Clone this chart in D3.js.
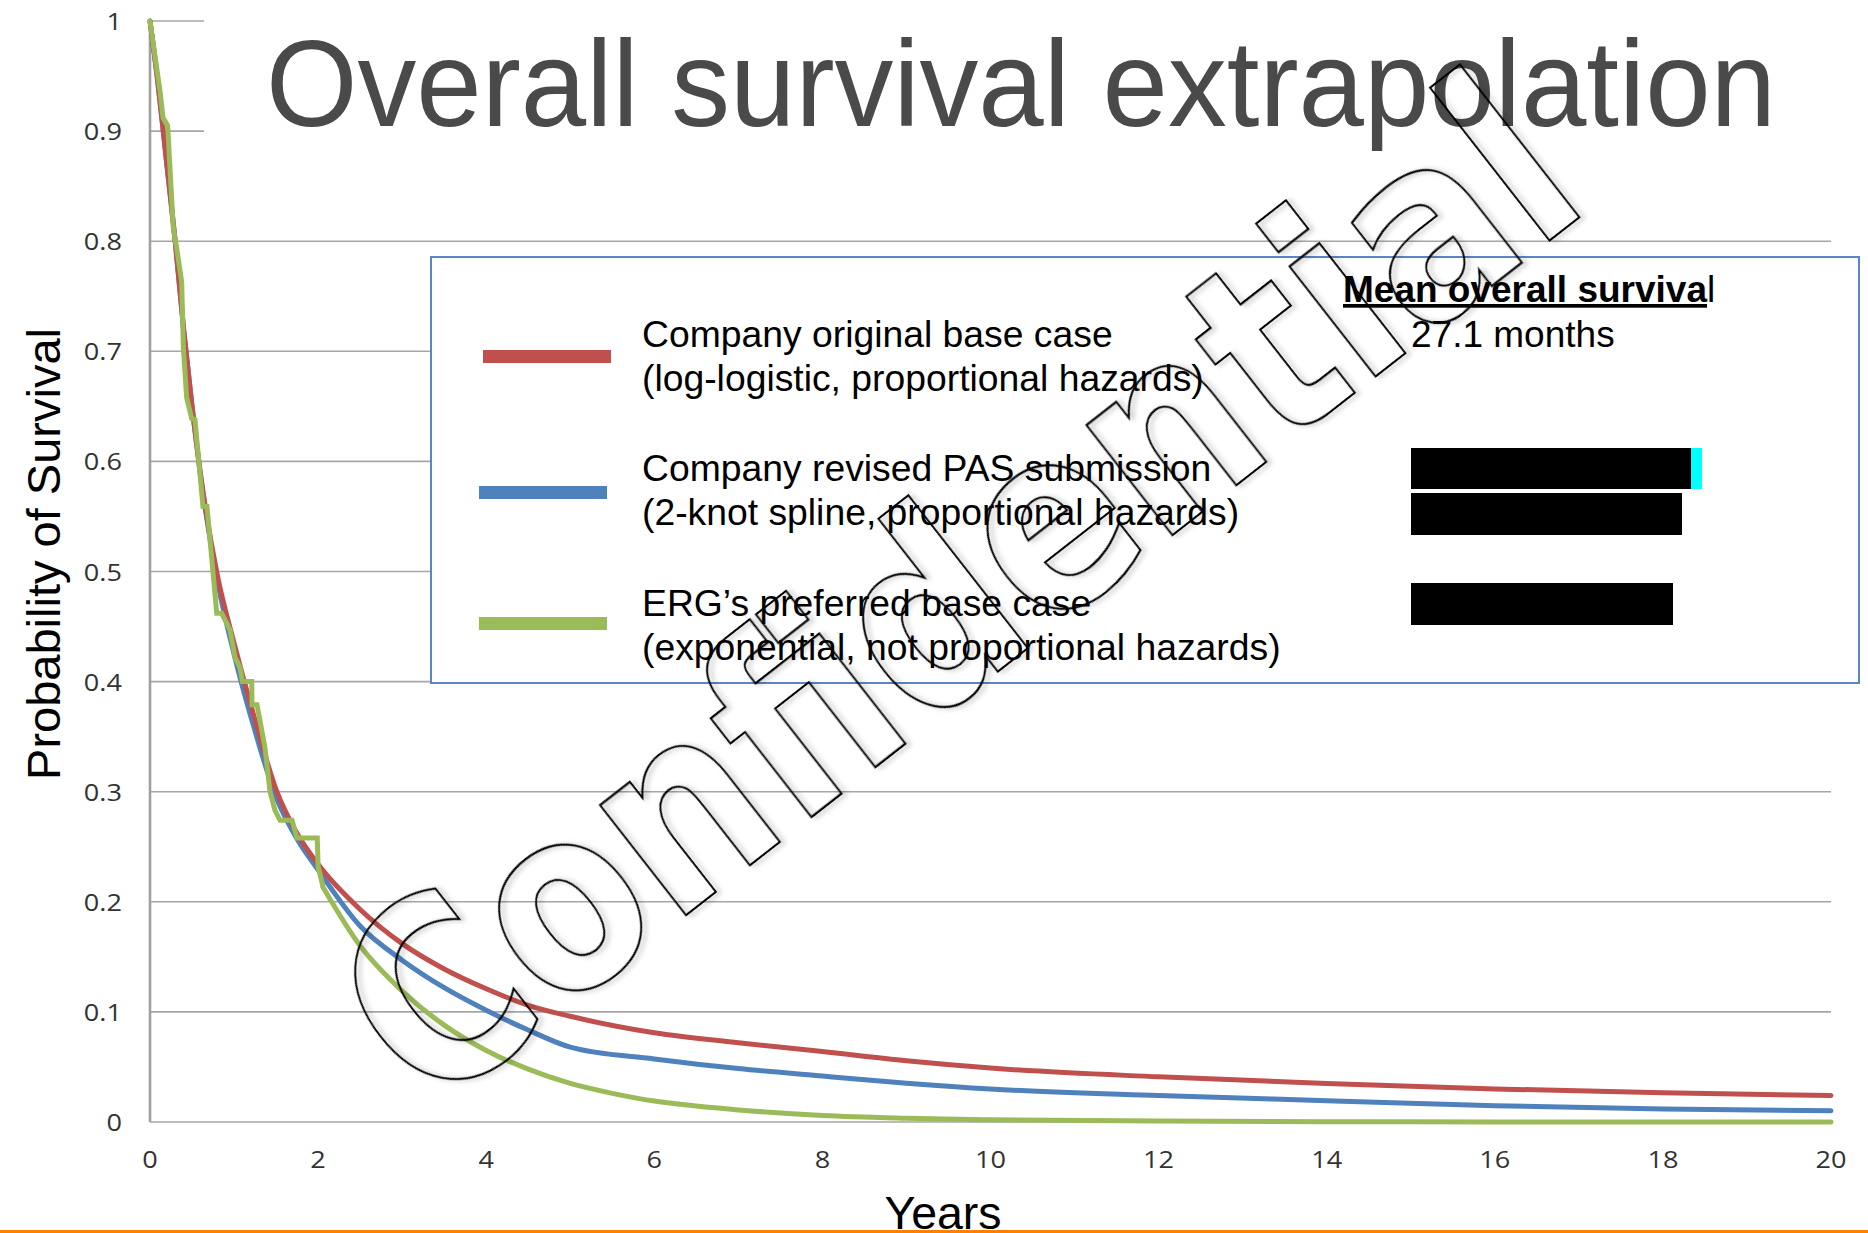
<!DOCTYPE html>
<html><head><meta charset="utf-8">
<script src="https://cdn.jsdelivr.net/npm/d3@7"></script>
<style>html,body{margin:0;padding:0;background:#fff;}svg{display:block;}</style>
</head><body>
<script>
// ---- data ----
const yearsGrid = [0, 0.1, 0.2, 0.3, 0.4, 0.5, 0.6, 0.8, 1.0, 1.25, 1.5, 1.75, 2, 2.5, 3, 3.5, 4, 4.5, 5, 6, 7, 8, 9, 10, 12, 14, 16, 18, 20];
const companyOriginal = [1, 0.94, 0.87, 0.80, 0.72, 0.65, 0.589, 0.497, 0.435, 0.365, 0.302, 0.262, 0.234, 0.193, 0.162, 0.139, 0.121, 0.106, 0.096, 0.081, 0.072, 0.064, 0.0556, 0.049, 0.041, 0.035, 0.030, 0.0266, 0.024];
const companyRevised = [1, 0.94, 0.87, 0.80, 0.72, 0.65, 0.588, 0.492, 0.425, 0.355, 0.295, 0.257, 0.229, 0.178, 0.147, 0.122, 0.1015, 0.0835, 0.068, 0.0573, 0.0485, 0.0417, 0.0353, 0.030, 0.024, 0.0194, 0.0148, 0.0118, 0.0103];
const ergKmYears = [0, 0.12, 0.155, 0.21, 0.277, 0.317, 0.377, 0.397, 0.436, 0.496, 0.535, 0.63, 0.678, 0.794, 0.853, 0.952, 1.011, 1.07, 1.1, 1.21, 1.214, 1.273, 1.368, 1.428, 1.487, 1.547, 1.69, 1.749, 1.99, 2.0, 2.06];
const ergKmSurv  = [1, 0.936, 0.912, 0.905, 0.812, 0.794, 0.763, 0.703, 0.658, 0.639, 0.638, 0.559, 0.559, 0.462, 0.462, 0.447, 0.422, 0.413, 0.40, 0.40, 0.379, 0.379, 0.34, 0.30, 0.283, 0.274, 0.274, 0.258, 0.258, 0.232, 0.213];
const ergExpYears = [2.06, 2.5, 3, 3.5, 4, 4.5, 5, 5.5, 6, 6.5, 7, 8, 9, 10, 12, 14, 16, 18, 20];
const ergExpSurv  = [0.213, 0.160, 0.119, 0.088, 0.065, 0.048, 0.035, 0.026, 0.019, 0.0145, 0.011, 0.006, 0.0035, 0.002, 0.0008, 0.0003, 0.0001, 0.00005, 0.00002];
const yTicks = [0, 0.1, 0.2, 0.3, 0.4, 0.5, 0.6, 0.7, 0.8, 0.9, 1];
const yTickLabels = ["0", "0.1", "0.2", "0.3", "0.4", "0.5", "0.6", "0.7", "0.8", "0.9", "1"];
const xTicks = [0, 2, 4, 6, 8, 10, 12, 14, 16, 18, 20];
const xTickLabels = ["0", "2", "4", "6", "8", "10", "12", "14", "16", "18", "20"];
const seriesNames = ["Company original base case", "Company revised PAS submission", "ERG\u2019s preferred base case"];
const seriesSub = ["(log-logistic, proportional hazards)", "(2-knot spline, proportional hazards)", "(exponential, not proportional hazards)"];
const seriesColors = ["#c0504d", "#4f81bd", "#9bbb59"];
const meanHeader = "Mean overall survival";
const meanValues = ["27.1 months"];
const titleText = "Overall survival extrapolation";
const xTitle = "Years";
const yTitle = "Probability of Survival";
const watermark = "Confidential";

// ---- drawing ----
const W = 1868, H = 1233;
const svg = d3.select("body").append("svg").attr("width", W).attr("height", H);
const x = d3.scaleLinear().domain([0, 20]).range([150, 1831]);
const y = d3.scaleLinear().domain([0, 1]).range([1122, 21]);

const defs = svg.append("defs");
const f = defs.append("filter").attr("id", "sh").attr("x", "-10%").attr("y", "-10%").attr("width", "120%").attr("height", "120%");
f.append("feDropShadow").attr("dx", 3).attr("dy", 3).attr("stdDeviation", 2.5).attr("flood-color", "#000").attr("flood-opacity", 0.3);

// gridlines
svg.append("g").selectAll("line").data(yTicks).join("line")
  .attr("x1", x(0)).attr("x2", x(20))
  .attr("y1", d => y(d)).attr("y2", d => y(d))
  .attr("stroke", "#a6a6a6").attr("stroke-width", 1.6);
// y axis line
svg.append("line").attr("x1", x(0)).attr("x2", x(0)).attr("y1", y(1)).attr("y2", y(0))
  .attr("stroke", "#a0a0a0").attr("stroke-width", 2.6);

// tick labels (slightly widened, like the stretched original)
svg.append("g").selectAll("text").data(yTicks).join("text")
  .attr("transform", d => `translate(122,${y(d) + 9}) scale(1.13,1)`)
  .attr("text-anchor", "end").attr("font-family", "Open Sans").attr("font-size", 24).attr("fill", "#333")
  .text((d, i) => yTickLabels[i]);
svg.append("g").selectAll("text").data(xTicks).join("text")
  .attr("transform", d => `translate(${x(d)},1168) scale(1.13,1)`)
  .attr("text-anchor", "middle").attr("font-family", "Open Sans").attr("font-size", 24).attr("fill", "#333")
  .text((d, i) => xTickLabels[i]);

// axis titles
svg.append("text").attr("transform", "translate(60,554) rotate(-90)")
  .attr("text-anchor", "middle").attr("font-family", "Liberation Sans").attr("font-size", 47).attr("fill", "#000")
  .text(yTitle);
svg.append("text").attr("x", 943).attr("y", 1229)
  .attr("text-anchor", "middle").attr("font-family", "Liberation Sans").attr("font-size", 46.5).attr("fill", "#000")
  .text(xTitle);

// title with white background
svg.append("rect").attr("x", 204).attr("y", 0).attr("width", W - 204).attr("height", 205).attr("fill", "#fff");
svg.append("text").attr("x", 266).attr("y", 126)
  .attr("font-family", "Liberation Sans").attr("font-size", 122).attr("fill", "#4a4a4a")
  .attr("textLength", 1510).attr("lengthAdjust", "spacingAndGlyphs")
  .text(titleText);

// legend box
svg.append("rect").attr("x", 431).attr("y", 257).attr("width", 1428).attr("height", 426)
  .attr("fill", "#fff").attr("stroke", "#5a86c4").attr("stroke-width", 2);
const swY = [350, 486, 617], swX = [483, 479, 479], txtY = [347, 481, 616];
seriesNames.forEach((n, i) => {
  svg.append("rect").attr("x", swX[i]).attr("y", swY[i]).attr("width", 128).attr("height", 13).attr("fill", seriesColors[i]);
  svg.append("text").attr("x", 642).attr("y", txtY[i]).attr("font-family", "Liberation Sans").attr("font-size", 37.3).attr("fill", "#000").text(n);
  svg.append("text").attr("x", 642).attr("y", txtY[i] + 44).attr("font-family", "Liberation Sans").attr("font-size", 37.3).attr("fill", "#000").text(seriesSub[i]);
});
const mh = svg.append("text").attr("x", 1343).attr("y", 302).attr("font-family", "Liberation Sans").attr("font-size", 37).attr("fill", "#000");
mh.append("tspan").attr("font-weight", "bold").attr("text-decoration", "underline").text(meanHeader.slice(0, -1));
mh.append("tspan").text(meanHeader.slice(-1));
svg.append("text").attr("x", 1411).attr("y", 347).attr("font-family", "Liberation Sans").attr("font-size", 37).attr("fill", "#000").text(meanValues[0]);
svg.append("rect").attr("x", 1411).attr("y", 448).attr("width", 280).attr("height", 41).attr("fill", "#000");
svg.append("rect").attr("x", 1691).attr("y", 448).attr("width", 11).attr("height", 41).attr("fill", "#00ffff");
svg.append("rect").attr("x", 1411).attr("y", 493).attr("width", 271).attr("height", 42).attr("fill", "#000");
svg.append("rect").attr("x", 1411).attr("y", 583).attr("width", 262).attr("height", 42).attr("fill", "#000");

// curves
const lineSmooth = d3.line().x(d => x(d[0])).y(d => y(d[1])).curve(d3.curveMonotoneX);
const lineStep = d3.line().x(d => x(d[0])).y(d => y(d[1])).curve(d3.curveLinear);
const g = svg.append("g").attr("fill", "none").attr("stroke-width", 5).attr("stroke-linejoin", "round").attr("stroke-linecap", "round");
g.append("path").attr("d", lineSmooth(yearsGrid.map((t, i) => [t, companyRevised[i]]))).attr("stroke", seriesColors[1]);
g.append("path").attr("d", lineSmooth(yearsGrid.map((t, i) => [t, companyOriginal[i]]))).attr("stroke", seriesColors[0]);
g.append("path").attr("d", lineStep(ergKmYears.map((t, i) => [t, ergKmSurv[i]]))).attr("stroke", seriesColors[2]).attr("stroke-linejoin", "miter");
g.append("path").attr("d", lineSmooth(ergExpYears.map((t, i) => [t, ergExpSurv[i]]))).attr("stroke", seriesColors[2]);

// watermark
svg.append("text").attr("transform", "translate(429,1116) rotate(-38)")
  .attr("font-family", "DejaVu Sans").attr("font-weight", "bold").attr("font-size", 255)
  .attr("textLength", 1478).attr("lengthAdjust", "spacingAndGlyphs")
  .attr("fill", "none").attr("stroke", "#000").attr("stroke-width", 2.2)
  .attr("filter", "url(#sh)")
  .text(watermark);

// bottom orange rule
svg.append("rect").attr("x", 0).attr("y", 1230).attr("width", W).attr("height", 4).attr("fill", "#ff7f00");
</script>
</body></html>
